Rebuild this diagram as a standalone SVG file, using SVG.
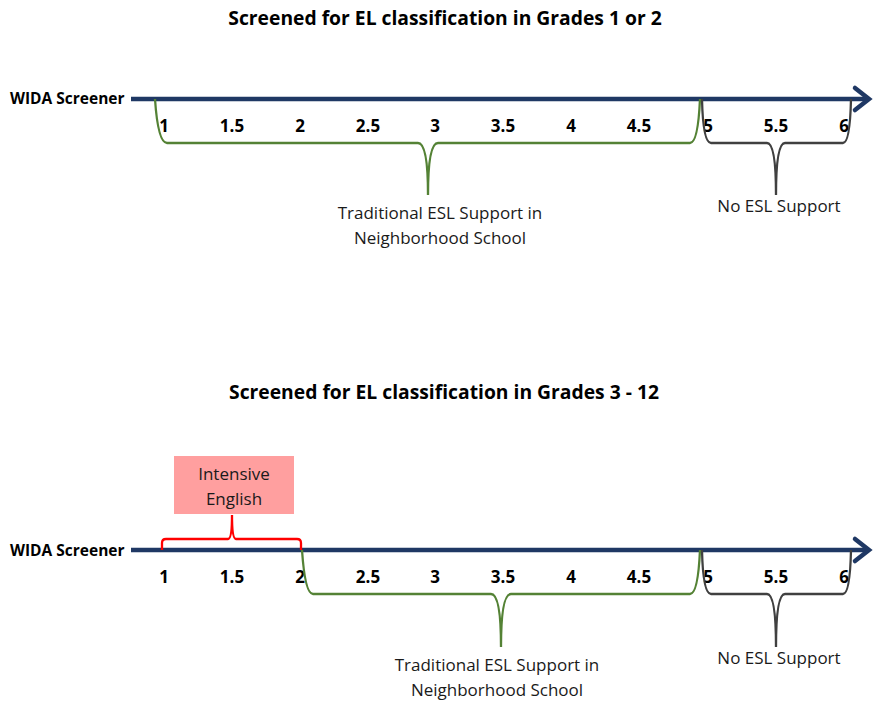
<svg xmlns="http://www.w3.org/2000/svg" width="874" height="703" viewBox="0 0 874 703">
<style>
.title{font-family:"Open Sans","Liberation Sans",sans-serif;font-weight:bold;font-size:19.3px;fill:#000;text-anchor:middle}
.wida{font-family:"Open Sans","Liberation Sans",sans-serif;font-weight:bold;font-size:15.5px;fill:#000}
.tick{font-family:"Open Sans","Liberation Sans",sans-serif;font-weight:bold;font-size:17px;fill:#000;text-anchor:middle}
.lbl{font-family:"Open Sans","Liberation Sans",sans-serif;font-size:17px;fill:#1a1a1a;text-anchor:middle}
.axis{stroke:#1F3864;stroke-width:4.5;fill:none}
.arrow{stroke:#1F3864;stroke-width:4.5;fill:none;stroke-linecap:round;stroke-linejoin:miter}
.green{stroke:#548235;stroke-width:2.3;fill:none}
.gray{stroke:#404040;stroke-width:2.3;fill:none}
.red{stroke:#FF0000;stroke-width:2.3;fill:none}
</style>
<g id="top">
<text class="title" x="445" y="25">Screened for EL classification in Grades 1 or 2</text>
<text class="wida" x="10" y="104">WIDA Screener</text>
<g id="top-axis">
<line class="axis" x1="131" y1="99" x2="868" y2="99"/>
<polyline class="arrow" points="855,88 869,99 855,110"/>
</g>
<g id="top-ticks">
<text class="tick" x="164" y="132">1</text>
<text class="tick" x="232" y="132">1.5</text>
<text class="tick" x="300" y="132">2</text>
<text class="tick" x="368" y="132">2.5</text>
<text class="tick" x="435" y="132">3</text>
<text class="tick" x="503" y="132">3.5</text>
<text class="tick" x="571" y="132">4</text>
<text class="tick" x="639" y="132">4.5</text>
<text class="tick" x="708" y="132">5</text>
<text class="tick" x="776" y="132">5.5</text>
<text class="tick" x="844" y="132">6</text>
</g>
<g id="top-connectors">
<path class="green" d="M155,99 Q158,143 167,143 H418 Q428,143 428,195 Q428,143 438,143 H690 Q698,143 700,99"/>
<path class="gray" d="M702,99 Q703,143 711,143 H767 Q776,143 776,195 Q776,143 785,143 H843 Q850,143 851,99"/>
</g>
<g id="top-traditional">
<text class="lbl" x="440" y="219">Traditional ESL Support in</text>
<text class="lbl" x="440" y="244">Neighborhood School</text>
</g>
<g id="top-noesl">
<text class="lbl" x="779" y="212">No ESL Support</text>
</g>
</g>
<g id="bottom">
<text class="title" x="444" y="399">Screened for EL classification in Grades 3 - 12</text>
<text class="wida" x="10" y="556">WIDA Screener</text>
<g id="bottom-axis">
<line class="axis" x1="131" y1="550" x2="868" y2="550"/>
<polyline class="arrow" points="855,539 869,550 855,561"/>
</g>
<g id="bottom-ticks">
<text class="tick" x="164" y="583">1</text>
<text class="tick" x="232" y="583">1.5</text>
<text class="tick" x="300" y="583">2</text>
<text class="tick" x="368" y="583">2.5</text>
<text class="tick" x="435" y="583">3</text>
<text class="tick" x="503" y="583">3.5</text>
<text class="tick" x="571" y="583">4</text>
<text class="tick" x="639" y="583">4.5</text>
<text class="tick" x="708" y="583">5</text>
<text class="tick" x="776" y="583">5.5</text>
<text class="tick" x="844" y="583">6</text>
</g>
<g id="bottom-connectors">
<path class="red" d="M162,550 V543 Q162,539 166,539 H228 Q232,539 232,515 Q232,539 236,539 H297 Q301,539 301,543 V550"/>
<path class="green" d="M302,550 Q305,594 313,594 H491 Q501,594 501,647 Q501,594 511,594 H690 Q698,594 700,550"/>
<path class="gray" d="M702,550 Q703,594 711,594 H767 Q776,594 776,647 Q776,594 785,594 H843 Q850,594 851,550"/>
</g>
<g id="intensive-english">
<rect x="174" y="456" width="120" height="58" fill="#FF9F9F"/>
<text class="lbl" x="234" y="480">Intensive</text>
<text class="lbl" x="234" y="505">English</text>
</g>
<g id="bottom-traditional">
<text class="lbl" x="497" y="671">Traditional ESL Support in</text>
<text class="lbl" x="497" y="696">Neighborhood School</text>
</g>
<g id="bottom-noesl">
<text class="lbl" x="779" y="664">No ESL Support</text>
</g>
</g>
</svg>
